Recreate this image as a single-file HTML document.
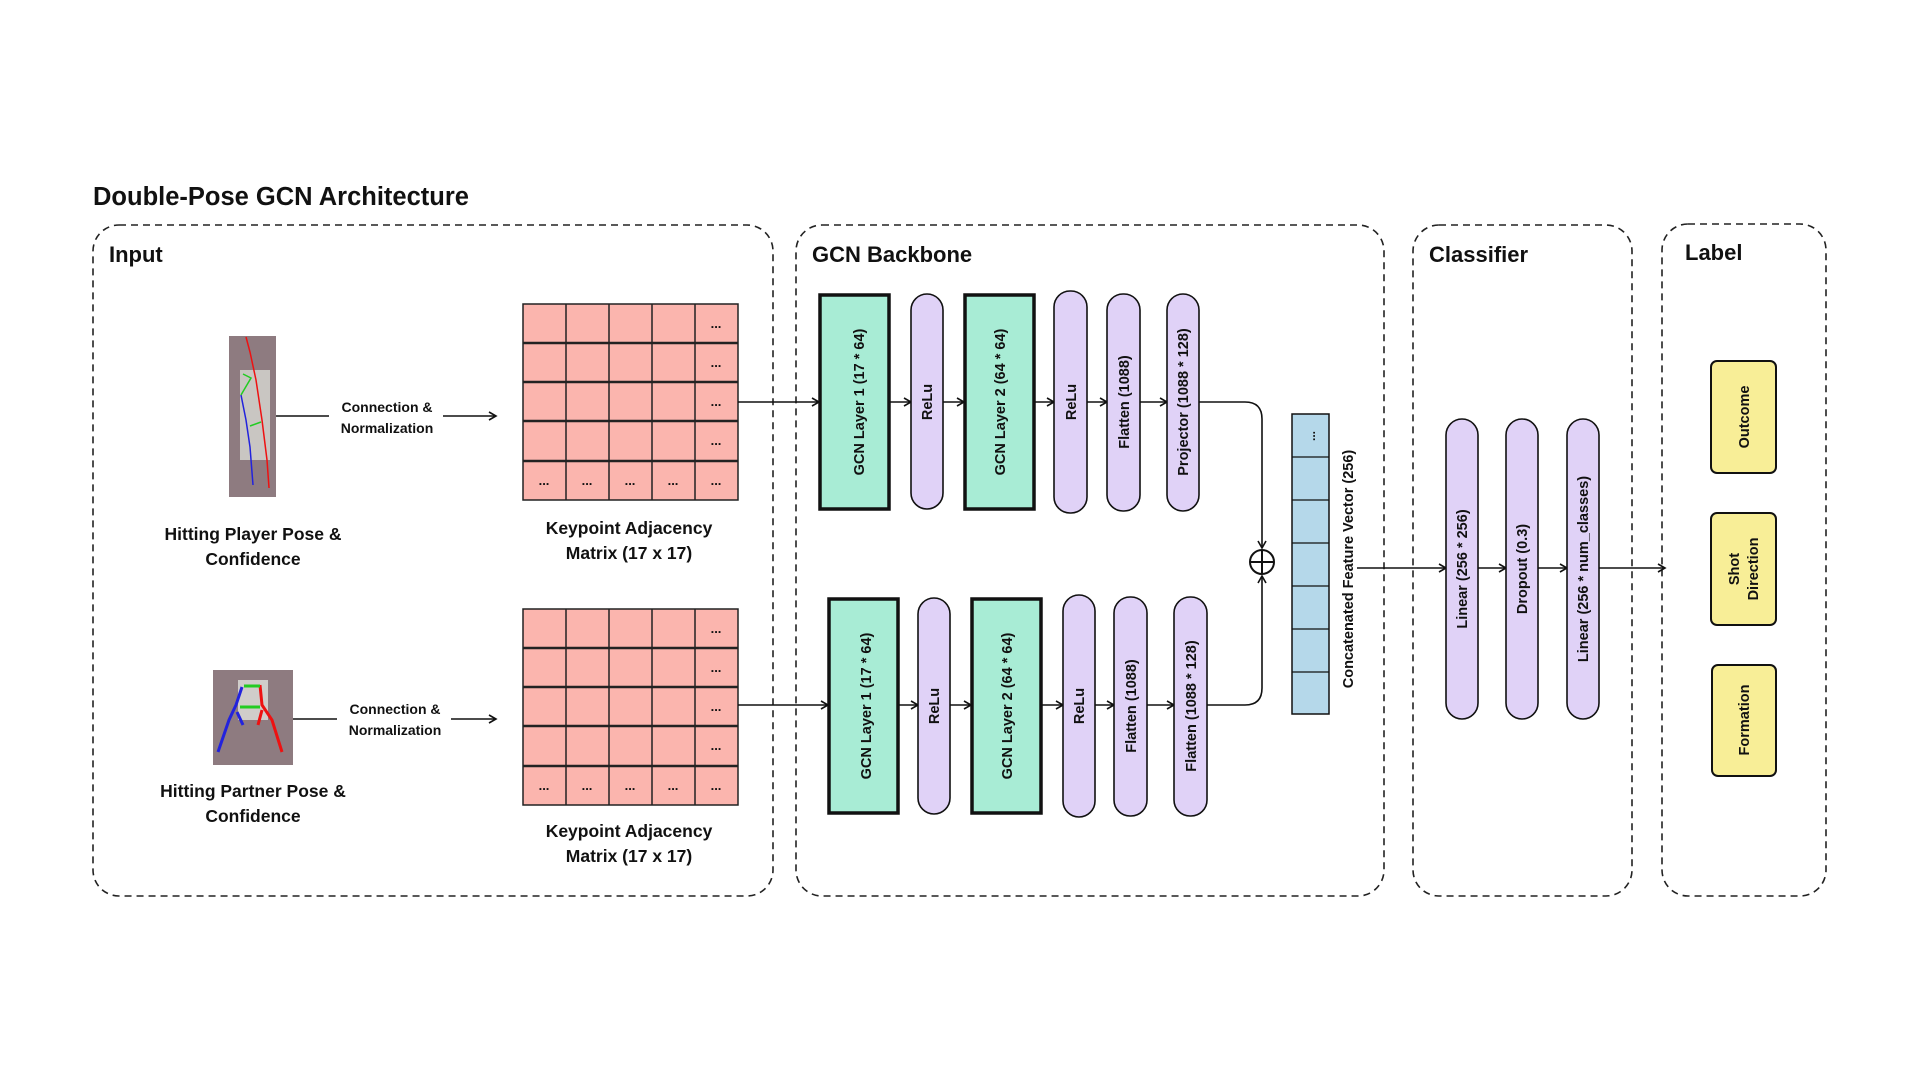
<!DOCTYPE html>
<html><head><meta charset="utf-8"><style>
html,body{margin:0;padding:0;background:#fff;}
svg{display:block;}
text{font-family:"Liberation Sans",sans-serif;font-weight:bold;fill:#111;}
</style></head><body>
<svg width="1920" height="1080" viewBox="0 0 1920 1080" xmlns="http://www.w3.org/2000/svg">
<defs>
<marker id="ar" markerWidth="10" markerHeight="10" refX="8" refY="5" orient="auto" markerUnits="userSpaceOnUse">
<path d="M1,1 L8,5 L1,9" fill="none" stroke="#111" stroke-width="1.6"/>
</marker>
</defs>
<rect width="1920" height="1080" fill="#fff"/>
<text x="93" y="205" font-size="25.5">Double-Pose GCN Architecture</text>

<g fill="none" stroke="#222" stroke-width="1.6" stroke-dasharray="7,5">
<rect x="93" y="225" width="680" height="671" rx="26"/>
<rect x="796" y="225" width="588" height="671" rx="26"/>
<rect x="1413" y="225" width="219" height="671" rx="26"/>
<rect x="1662" y="224" width="164" height="672" rx="26"/>
</g>
<text x="109" y="262" font-size="22">Input</text>
<text x="812" y="262" font-size="22">GCN Backbone</text>
<text x="1429" y="262" font-size="22">Classifier</text>
<text x="1685" y="260" font-size="22">Label</text>

<!-- player image -->
<rect x="229" y="336" width="47" height="161" fill="#8e7b80"/>
<rect x="240" y="370" width="30" height="90" fill="#c9c6c2"/>
<polyline points="246,337 250,352 256,380 262,420 267,460 269,488" fill="none" stroke="#e11" stroke-width="1.5"/>
<polyline points="241,395 246,420 250,447 253,485" fill="none" stroke="#22d" stroke-width="1.5"/>
<polyline points="243,374 251,378 241,395" fill="none" stroke="#2c2" stroke-width="1.5"/>
<line x1="250" y1="426" x2="261" y2="422" stroke="#2c2" stroke-width="1.5"/>
<!-- partner image -->
<rect x="213" y="670" width="80" height="95" fill="#8e7b80"/>
<rect x="238" y="680" width="30" height="40" fill="#d0cdca"/>
<polyline points="242,687 236,705 229,720 218,752" fill="none" stroke="#22d" stroke-width="3"/>
<polyline points="237,712 243,725" fill="none" stroke="#22d" stroke-width="3"/>
<polyline points="260,685 262,705 272,720 282,752" fill="none" stroke="#e11" stroke-width="3"/>
<polyline points="262,710 258,725" fill="none" stroke="#e11" stroke-width="3"/>
<line x1="244" y1="686" x2="260" y2="686" stroke="#2c2" stroke-width="3"/>
<line x1="240" y1="707" x2="260" y2="707" stroke="#2c2" stroke-width="3"/>

<text x="253" y="540" font-size="17.5" text-anchor="middle">Hitting Player Pose &amp;</text>
<text x="253" y="565" font-size="17.5" text-anchor="middle">Confidence</text>
<text x="253" y="797" font-size="17.5" text-anchor="middle">Hitting Partner Pose &amp;</text>
<text x="253" y="822" font-size="17.5" text-anchor="middle">Confidence</text>

<g stroke="#111" stroke-width="1.6" fill="none">
<line x1="276" y1="416" x2="329" y2="416"/>
<line x1="443" y1="416" x2="496" y2="416" marker-end="url(#ar)"/>
<line x1="293" y1="719" x2="337" y2="719"/>
<line x1="451" y1="719" x2="496" y2="719" marker-end="url(#ar)"/>
</g>
<text x="387" y="412" font-size="14" text-anchor="middle">Connection &amp;</text>
<text x="387" y="433" font-size="14" text-anchor="middle">Normalization</text>
<text x="395" y="714" font-size="14" text-anchor="middle">Connection &amp;</text>
<text x="395" y="735" font-size="14" text-anchor="middle">Normalization</text>

<!-- matrices -->
<g id="m1">
<rect x="523" y="304" width="215" height="196" fill="#fbb5ae" stroke="#222" stroke-width="1.5"/>
<g stroke="#222" stroke-width="1.5">
<line x1="566" y1="304" x2="566" y2="500"/><line x1="609" y1="304" x2="609" y2="500"/>
<line x1="652" y1="304" x2="652" y2="500"/><line x1="695" y1="304" x2="695" y2="500"/>
<line x1="523" y1="343" x2="738" y2="343" stroke-width="2.5"/><line x1="523" y1="382" x2="738" y2="382" stroke-width="2.5"/>
<line x1="523" y1="421" x2="738" y2="421" stroke-width="2.5"/><line x1="523" y1="461" x2="738" y2="461" stroke-width="2.5"/>
</g>
<g font-size="13" text-anchor="middle">
<text x="716" y="328">...</text><text x="716" y="367">...</text><text x="716" y="406">...</text><text x="716" y="445">...</text>
<text x="544" y="485">...</text><text x="587" y="485">...</text><text x="630" y="485">...</text><text x="673" y="485">...</text><text x="716" y="485">...</text>
</g>
</g>
<use href="#m1" transform="translate(0,305)"/>
<text x="629" y="534" font-size="17.5" text-anchor="middle">Keypoint Adjacency</text>
<text x="629" y="559" font-size="17.5" text-anchor="middle">Matrix (17 x 17)</text>
<text x="629" y="837" font-size="17.5" text-anchor="middle">Keypoint Adjacency</text>
<text x="629" y="862" font-size="17.5" text-anchor="middle">Matrix (17 x 17)</text>

<g stroke="#111" stroke-width="1.6" fill="none">
<line x1="738" y1="402" x2="819" y2="402" marker-end="url(#ar)"/>
<line x1="890" y1="402" x2="911" y2="402" marker-end="url(#ar)"/>
<line x1="943" y1="402" x2="964" y2="402" marker-end="url(#ar)"/>
<line x1="1034" y1="402" x2="1054" y2="402" marker-end="url(#ar)"/>
<line x1="1087" y1="402" x2="1107" y2="402" marker-end="url(#ar)"/>
<line x1="1140" y1="402" x2="1167" y2="402" marker-end="url(#ar)"/>
<path d="M1199,402 H1245 Q1262,402 1262,419 V548" marker-end="url(#ar)"/>
<line x1="738" y1="705" x2="828" y2="705" marker-end="url(#ar)"/>
<line x1="898" y1="705" x2="918" y2="705" marker-end="url(#ar)"/>
<line x1="950" y1="705" x2="971" y2="705" marker-end="url(#ar)"/>
<line x1="1041" y1="705" x2="1063" y2="705" marker-end="url(#ar)"/>
<line x1="1095" y1="705" x2="1114" y2="705" marker-end="url(#ar)"/>
<line x1="1147" y1="705" x2="1174" y2="705" marker-end="url(#ar)"/>
<path d="M1207,705 H1245 Q1262,705 1262,688 V576" marker-end="url(#ar)"/>
<circle cx="1262" cy="562" r="12" stroke-width="2"/>
<line x1="1250" y1="562" x2="1274" y2="562" stroke-width="2"/>
<line x1="1262" y1="550" x2="1262" y2="574" stroke-width="2"/>
<line x1="1357" y1="568" x2="1446" y2="568" marker-end="url(#ar)"/>
<line x1="1478" y1="568" x2="1506" y2="568" marker-end="url(#ar)"/>
<line x1="1538" y1="568" x2="1567" y2="568" marker-end="url(#ar)"/>
<line x1="1599" y1="568" x2="1665" y2="568" marker-end="url(#ar)"/>
</g>

<g stroke="#111">
<rect x="820" y="295" width="69" height="214" fill="#a8ecd5" stroke-width="3.5"/>
<rect x="965" y="295" width="69" height="214" fill="#a8ecd5" stroke-width="3.5"/>
<rect x="829" y="599" width="69" height="214" fill="#a8ecd5" stroke-width="3.5"/>
<rect x="972" y="599" width="69" height="214" fill="#a8ecd5" stroke-width="3.5"/>
<g fill="#e0d2f7" stroke-width="1.6">
<rect x="911" y="294" width="32" height="215" rx="16"/>
<rect x="1054" y="291" width="33" height="222" rx="16"/>
<rect x="1107" y="294" width="33" height="217" rx="16"/>
<rect x="1167" y="294" width="32" height="217" rx="16"/>
<rect x="918" y="598" width="32" height="216" rx="16"/>
<rect x="1063" y="595" width="32" height="222" rx="16"/>
<rect x="1114" y="597" width="33" height="219" rx="16"/>
<rect x="1174" y="597" width="33" height="219" rx="16"/>
<rect x="1446" y="419" width="32" height="300" rx="16"/>
<rect x="1506" y="419" width="32" height="300" rx="16"/>
<rect x="1567" y="419" width="32" height="300" rx="16"/>
</g>
<g fill="#f8ee97" stroke-width="2">
<rect x="1711" y="361" width="65" height="112" rx="6"/>
<rect x="1711" y="513" width="65" height="112" rx="6"/>
<rect x="1712" y="665" width="64" height="111" rx="6"/>
</g>
<rect x="1292" y="414" width="37" height="300" fill="#b5d8ea" stroke-width="1.5"/>
<g stroke-width="1.3">
<line x1="1292" y1="457" x2="1329" y2="457"/><line x1="1292" y1="500" x2="1329" y2="500"/>
<line x1="1292" y1="543" x2="1329" y2="543"/><line x1="1292" y1="586" x2="1329" y2="586"/>
<line x1="1292" y1="629" x2="1329" y2="629"/><line x1="1292" y1="672" x2="1329" y2="672"/>
</g>
</g>
<text font-size="12" transform="translate(1315,436) rotate(-90)" text-anchor="middle">...</text>

<g font-size="14.5" text-anchor="middle">
<text transform="translate(859,402) rotate(-90)" dy="5">GCN Layer 1 (17 * 64)</text>
<text transform="translate(927,402) rotate(-90)" dy="5">ReLu</text>
<text transform="translate(1000,402) rotate(-90)" dy="5">GCN Layer 2 (64 * 64)</text>
<text transform="translate(1071,402) rotate(-90)" dy="5">ReLu</text>
<text transform="translate(1124,402) rotate(-90)" dy="5">Flatten (1088)</text>
<text transform="translate(1183,402) rotate(-90)" dy="5">Projector (1088 * 128)</text>
<text transform="translate(866,706) rotate(-90)" dy="5">GCN Layer 1 (17 * 64)</text>
<text transform="translate(934,706) rotate(-90)" dy="5">ReLu</text>
<text transform="translate(1007,706) rotate(-90)" dy="5">GCN Layer 2 (64 * 64)</text>
<text transform="translate(1079,706) rotate(-90)" dy="5">ReLu</text>
<text transform="translate(1131,706) rotate(-90)" dy="5">Flatten (1088)</text>
<text transform="translate(1191,706) rotate(-90)" dy="5">Flatten (1088 * 128)</text>
<text transform="translate(1348,569) rotate(-90)" dy="5">Concatenated Feature Vector (256)</text>
<text transform="translate(1462,569) rotate(-90)" dy="5">Linear (256 * 256)</text>
<text transform="translate(1522,569) rotate(-90)" dy="5">Dropout (0.3)</text>
<text transform="translate(1583,569) rotate(-90)" dy="5">Linear (256 * num_classes)</text>
<text transform="translate(1744,417) rotate(-90)" dy="5">Outcome</text>
<text transform="translate(1744,569) rotate(-90)" dy="-5">Shot</text>
<text transform="translate(1744,569) rotate(-90)" dy="14">Direction</text>
<text transform="translate(1744,720) rotate(-90)" dy="5">Formation</text>
</g>
</svg>
</body></html>
